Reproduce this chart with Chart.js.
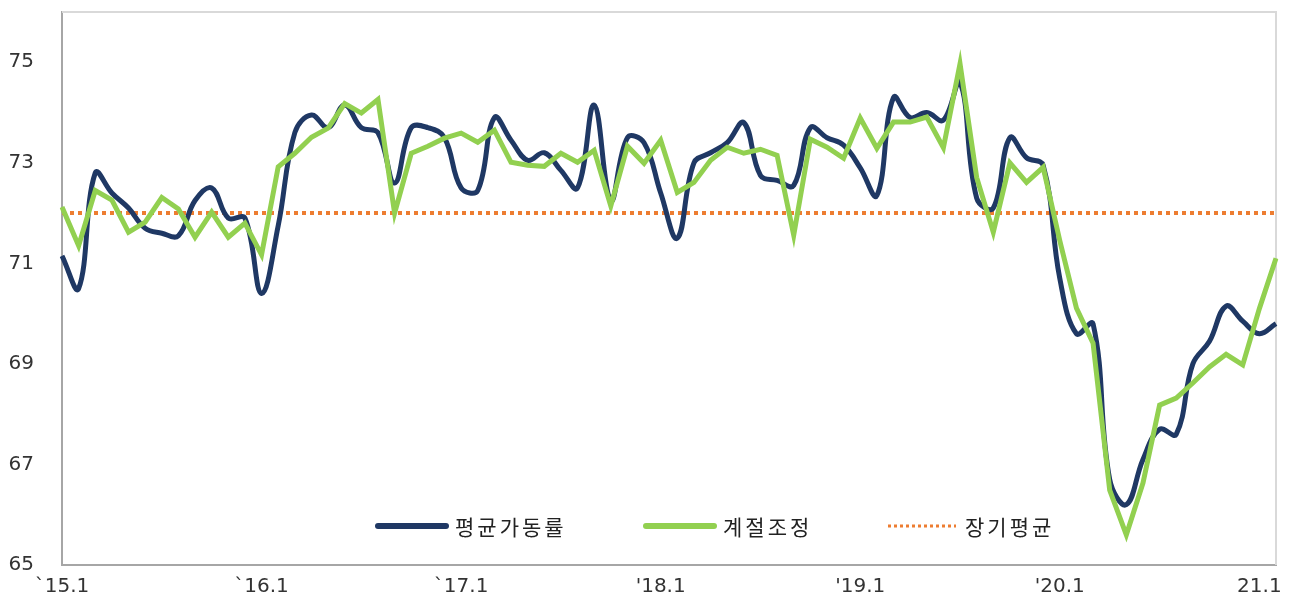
<!doctype html>
<html>
<head>
<meta charset="utf-8">
<title>평균가동률</title>
<script src="https://cdn.jsdelivr.net/npm/chart.js"></script>
<style>
  body { margin: 0; background: #fff; }
  #wrap { width: 1292px; height: 597px; }
</style>
</head>
<body>
<div id="wrap"><canvas id="chart"></canvas></div>
<script>
// months '15.1 .. '21.2
var years = ['15', '16', '17', '18', '19', '20', '21'];
var months = [];
years.forEach(function (y) {
    for (var m = 1; m <= 12; m++) months.push(y + '.' + m);
});
months = months.slice(0, 74);

var tickLabels = ['`15.1', '`16.1', '`17.1', "'18.1", "'19.1", "'20.1", '21.1'];
var yTicks = [65, 67, 69, 71, 73, 75];

// 평균가동률
var avgRate = [
    71.15, 70.5, 72.8, 72.4, 72.1, 71.7, 71.6, 71.55, 72.25, 72.5, 71.9, 71.9,
    70.4, 71.75, 73.6, 73.95, 73.7, 74.15, 73.7, 73.6, 72.6, 73.7, 73.7, 73.5,
    72.5, 72.45, 73.9, 73.45, 73.05, 73.2, 72.85, 72.5, 74.15, 72.25, 73.5, 73.4,
    72.4, 71.5, 73.0, 73.2, 73.4, 73.8, 72.75, 72.65, 72.55, 73.7, 73.5, 73.35,
    72.9, 72.35, 74.3, 73.9, 74.0, 73.85, 74.6, 72.3, 72.1, 73.5, 73.1, 72.95,
    70.7, 69.6, 69.8, 66.7, 66.2, 67.1, 67.7, 67.6, 69.0, 69.45, 70.15, 69.85,
    69.6, 69.8
];

// 계절조정
var seasonalAdj = [
    72.12, 71.35, 72.45, 72.26, 71.62, 71.82, 72.31, 72.08, 71.52, 72.02, 71.52, 71.8,
    71.17, 72.92, 73.19, 73.51, 73.69, 74.18, 73.99, 74.26, 72.0, 73.19, 73.33, 73.49,
    73.59, 73.41, 73.65, 73.01, 72.95, 72.93, 73.19, 73.01, 73.25, 72.14, 73.33, 72.99,
    73.45, 72.41, 72.61, 73.05, 73.31, 73.19, 73.27, 73.15, 71.56, 73.47, 73.31, 73.09,
    73.89, 73.29, 73.81, 73.81, 73.91, 73.3, 74.97, 72.71, 71.62, 73.0, 72.61, 72.91,
    71.45, 70.11, 69.41, 66.49, 65.6, 66.63, 68.18, 68.32, 68.62, 68.94, 69.19, 68.98,
    70.1, 71.1
];

// 장기평균
var longRunAvg = 72.0;

var TICK_FONT = '"DejaVu Sans", sans-serif';
var KR_FONT = '"Noto Sans CJK KR", sans-serif';

// legend drawn inside the plot, near the bottom
var insideLegend = {
    id: 'insideLegend',
    afterDraw: function (chart) {
        var ctx = chart.ctx;
        var xs = [378, 646, 888];
        var y = 526;
        ctx.save();
        chart.data.datasets.forEach(function (ds, i) {
            ctx.beginPath();
            ctx.strokeStyle = ds.borderColor;
            ctx.lineWidth = ds.legendWidth;
            ctx.lineCap = ds.legendDash ? 'butt' : 'round';
            ctx.setLineDash(ds.legendDash || []);
            ctx.moveTo(xs[i], y);
            ctx.lineTo(xs[i] + 68, y);
            ctx.stroke();
            ctx.setLineDash([]);
            ctx.fillStyle = '#222';
            ctx.font = '21px ' + KR_FONT;
            ctx.letterSpacing = '3px';
            ctx.textBaseline = 'middle';
            ctx.fillText(ds.label, xs[i] + 77, y + 1);
            ctx.letterSpacing = '0px';
        });
        ctx.restore();
    }
};

// light top / right frame lines
var frame = {
    id: 'frame',
    beforeDatasetsDraw: function (chart) {
        var a = chart.chartArea, ctx = chart.ctx;
        ctx.save();
        ctx.strokeStyle = '#d9d9d9';
        ctx.lineWidth = 2;
        ctx.beginPath();
        ctx.moveTo(a.left, a.top);
        ctx.lineTo(a.right, a.top);
        ctx.lineTo(a.right, a.bottom);
        ctx.stroke();
        ctx.restore();
    }
};

new Chart(document.getElementById('chart').getContext('2d'), {
    type: 'line',
    data: {
        labels: months,
        datasets: [{
            label: '평균가동률',
            data: avgRate,
            borderColor: '#1f3864',
            borderWidth: 5,
            tension: 0.4,
            pointRadius: 0,
            order: 1,
            legendWidth: 6
        }, {
            label: '계절조정',
            data: seasonalAdj,
            borderColor: '#92d050',
            borderWidth: 5,
            tension: 0,
            pointRadius: 0,
            order: 0,
            legendWidth: 6
        }, {
            label: '장기평균',
            data: months.map(function () { return longRunAvg; }),
            borderColor: '#ed7d31',
            borderWidth: 4,
            borderDash: [4, 4],
            pointRadius: 0,
            order: 2,
            legendWidth: 3,
            legendDash: [3, 3]
        }]
    },
    options: {
        responsive: true,
        maintainAspectRatio: false,
        animation: false,
        layout: { padding: { top: 12, right: 16, left: 0, bottom: 0 } },
        plugins: {
            legend: { display: false },
            tooltip: { enabled: false }
        },
        scales: {
            x: {
                offset: false,
                grid: { display: true, drawOnChartArea: false, drawTicks: false },
                border: { display: true, color: '#a6a6a6', width: 2 },
                afterFit: function (scale) { scale.height = 32; },
                ticks: {
                    autoSkip: false,
                    maxRotation: 0,
                    padding: 10,
                    color: '#333',
                    font: { family: TICK_FONT, size: 20 },
                    callback: function (value, index) {
                        return index % 12 === 0 ? tickLabels[index / 12] : '';
                    }
                }
            },
            y: {
                min: 65,
                max: 76,
                grid: { display: true, drawOnChartArea: false, drawTicks: false },
                border: { display: true, color: '#a6a6a6', width: 2 },
                afterFit: function (scale) {
                    scale.width = 62;
                    scale.paddingTop = 0;
                    scale.paddingBottom = 0;
                },
                afterBuildTicks: function (scale) {
                    scale.ticks = yTicks.map(function (v) { return { value: v }; });
                },
                ticks: {
                    padding: 28,
                    color: '#333',
                    font: { family: TICK_FONT, size: 20 }
                }
            }
        }
    },
    plugins: [frame, insideLegend]
});
</script>
</body>
</html>
